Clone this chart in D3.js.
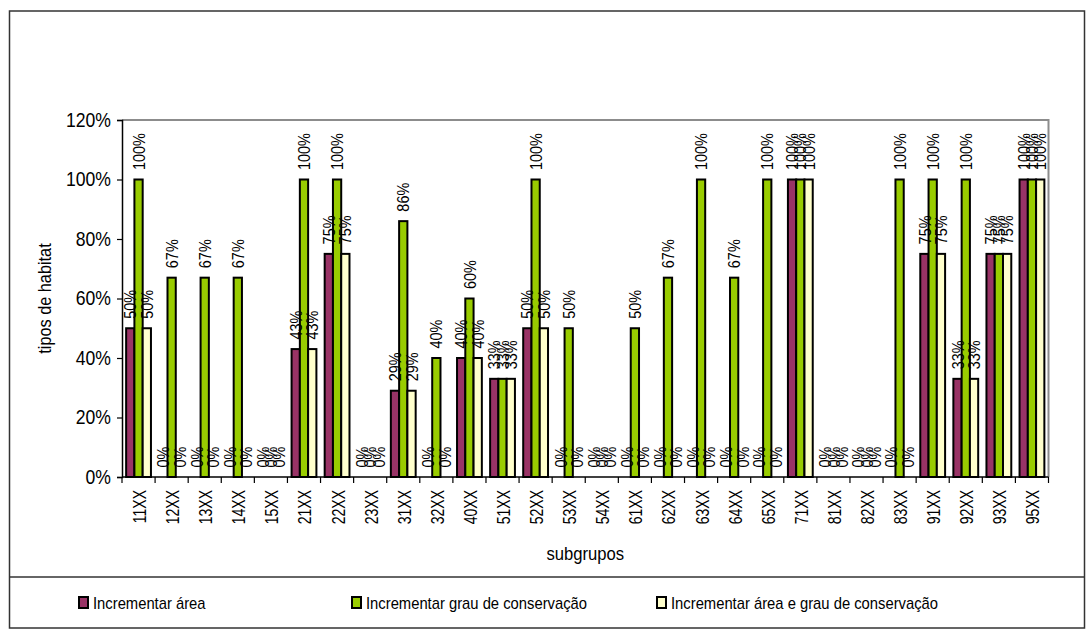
<!DOCTYPE html>
<html><head><meta charset="utf-8">
<script src="https://cdn.jsdelivr.net/npm/d3@7"></script>
<style>
html,body{margin:0;padding:0;background:#fff;}
svg{display:block;font-family:"Liberation Sans",Arial,sans-serif;}
</style></head>
<body>
<svg id="chart" width="1087" height="631"></svg>
<script>
const categories = ["11XX","12XX","13XX","14XX","15XX","21XX","22XX","23XX","31XX","32XX","40XX","51XX","52XX","53XX","54XX","61XX","62XX","63XX","64XX","65XX","71XX","81XX","82XX","83XX","91XX","92XX","93XX","95XX"];
const seriesNames = ["Incrementar área","Incrementar grau de conservação","Incrementar área e grau de conservação"];
const incArea =      [50,0,0,0,0,43,75,0,29,0,40,33,50,0,0,0,0,0,0,0,100,0,0,0,75,33,75,100];
const incGrau =      [100,67,67,67,0,100,100,0,86,40,60,33,100,50,0,50,67,100,67,100,100,0,0,100,100,100,75,100];
const incAreaGrau =  [50,0,0,0,0,43,75,0,29,0,40,33,50,0,0,0,0,0,0,0,100,0,0,0,75,33,75,100];
const yTicks = [0,20,40,60,80,100,120];
const colors = ["#993366","#99CC00","#FFFFCC"];

const seriesValues = [incArea, incGrau, incAreaGrau];
const svg = d3.select("#chart");

// outer frame
svg.append("rect").attr("x",9.5).attr("y",11).attr("width",1075).attr("height",617)
  .attr("fill","none").attr("stroke","#333").attr("stroke-width",1.5);
svg.append("line").attr("x1",9.5).attr("x2",1084.5).attr("y1",577).attr("y2",577)
  .attr("stroke","#333").attr("stroke-width",1.5);

const L = 122, R = 1048.5, T = 120, B = 477;
const x = d3.scaleBand().domain(categories).range([L,R]).paddingInner(0).paddingOuter(0);
const bw = x.bandwidth()*0.75;
const xs = d3.scaleBand().domain(d3.range(3)).range([(x.bandwidth()-bw)/2,(x.bandwidth()+bw)/2]);
const y = d3.scaleLinear().domain([0,120]).range([B,T]);

// plot border (top/right) gray
svg.append("path").attr("d",`M${L},${T}H${R}V${B}`).attr("fill","none")
  .attr("stroke","#8c8c8c").attr("stroke-width",2);

// bars
const g = svg.append("g");
seriesValues.forEach((vals,si)=>{
  g.selectAll(null).data(vals.map((v,i)=>({v,c:categories[i]}))).enter()
    .append("rect")
    .attr("x",d=>x(d.c)+xs(si))
    .attr("width",xs.bandwidth())
    .attr("y",d=>y(d.v))
    .attr("height",d=>B-y(d.v))
    .attr("fill",colors[si]).attr("stroke","#000").attr("stroke-width",2);
});
// data labels
seriesValues.forEach((vals,si)=>{
  g.selectAll(null).data(vals.map((v,i)=>({v,c:categories[i]}))).enter()
    .append("text")
    .attr("transform",d=>`translate(${x(d.c)+xs(si)+xs.bandwidth()/2},${y(d.v)-9.5}) rotate(-90) scale(0.85,1)`)
    .attr("dy","0.36em")
    .attr("font-size",17).attr("fill","#000")
    .text(d=>d.v+"%");
});

// y axis
const yAxis = d3.axisLeft(y).tickValues(yTicks).tickSize(5).tickPadding(6).tickFormat(d=>d+"%");
const ya = svg.append("g").attr("transform",`translate(${L},0)`).call(yAxis);
ya.select(".domain").attr("stroke","#000").attr("stroke-width",1.5);
ya.selectAll(".tick line").attr("stroke","#000").attr("stroke-width",1.2);
ya.selectAll(".tick text").attr("font-size",20).attr("font-family","Liberation Sans, Arial, sans-serif")
  .attr("fill","#000").attr("x",0).attr("transform","translate(-11,0) scale(0.88,1)");

// x axis
const xa = svg.append("g").attr("transform",`translate(0,${B})`);
xa.append("line").attr("x1",L).attr("x2",R).attr("stroke","#000").attr("stroke-width",1.5);
xa.selectAll(null).data(categories.concat(["__end"])).enter().append("line")
  .attr("x1",(d,i)=>i<categories.length?x(d):R).attr("x2",(d,i)=>i<categories.length?x(d):R)
  .attr("y1",0).attr("y2",6).attr("stroke","#000").attr("stroke-width",1.2);
xa.selectAll(null).data(categories).enter().append("text")
  .attr("transform",d=>`translate(${x(d)+x.bandwidth()/2+1},13) rotate(-90) scale(0.78,1)`)
  .attr("text-anchor","end").attr("dy","0.36em")
  .attr("font-size",18).attr("fill","#000").text(d=>d);

// axis titles
svg.append("text").attr("transform",`translate(44,${(T+B)/2}) rotate(-90) scale(0.88,1)`)
  .attr("text-anchor","middle").attr("dy","0.36em").attr("font-size",18.5).text("tipos de habitat");
svg.append("text").attr("transform",`translate(${(L+R)/2},553) scale(0.9,1)`).attr("text-anchor","middle").attr("dy","0.36em")
  .attr("font-size",18.5).text("subgrupos");

// legend
const legX = [79, 352, 657];
const lg = svg.append("g");
seriesNames.forEach((n,i)=>{
  lg.append("rect").attr("x",legX[i]).attr("y",597).attr("width",9).attr("height",11)
    .attr("fill",colors[i]).attr("stroke","#000").attr("stroke-width",2);
  lg.append("text").attr("transform",`translate(${legX[i]+14},603) scale(0.87,1)`).attr("dy","0.36em")
    .attr("font-size",17).text(n);
});
</script>
</body></html>
